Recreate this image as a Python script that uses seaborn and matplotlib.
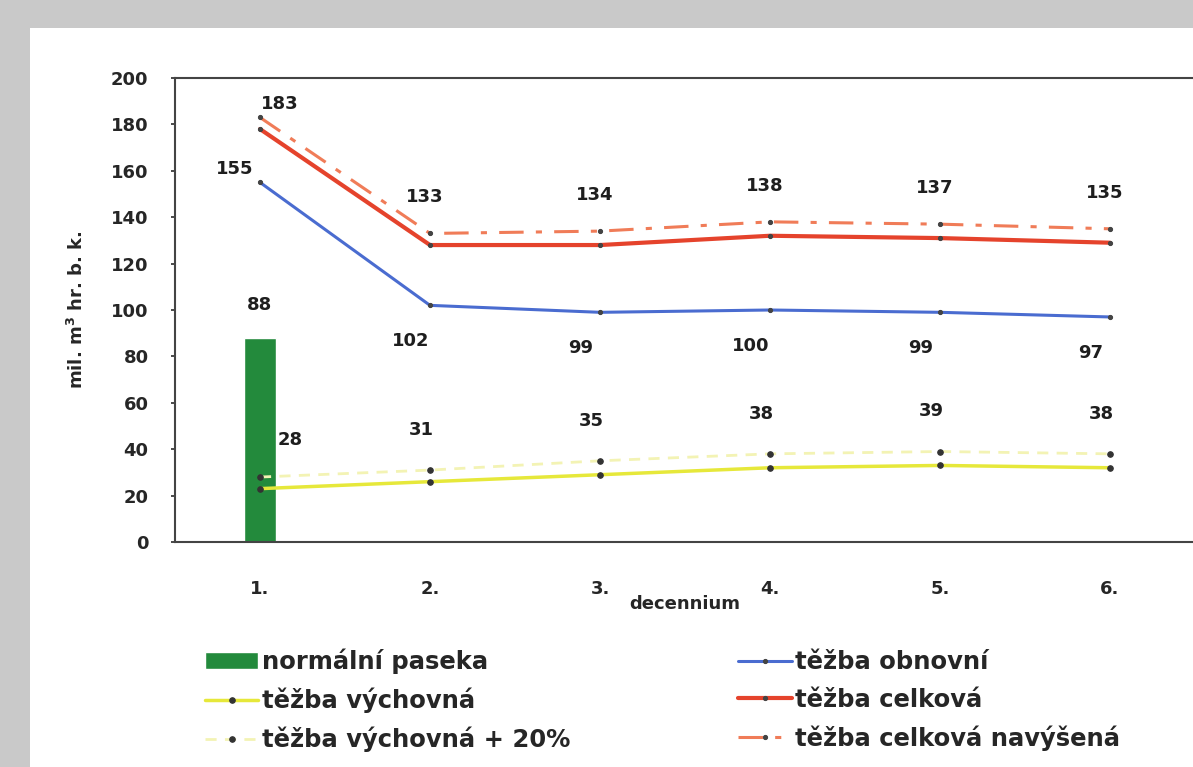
import numpy as np
import pandas as pd
import matplotlib
matplotlib.use("Agg")
import matplotlib.pyplot as plt
import seaborn as sns
from matplotlib.patches import Rectangle

# Données
decennium = ["1.", "2.", "3.", "4.", "5.", "6."]
normalni_paseka = [88, np.nan, np.nan, np.nan, np.nan, np.nan]
tezba_obnovni = [155, 102, 99, 100, 99, 97]
tezba_celkova = [178, 128, 128, 132, 131, 129]
tezba_celkova_navysena = [183, 133, 134, 138, 137, 135]
tezba_vychovna = [23, 26, 29, 32, 33, 32]
tezba_vychovna_20 = [28, 31, 35, 38, 39, 38]

sns.set_theme(style="white")
plt.rcParams['font.family'] = ['DejaVu Sans']
plt.rcParams['font.weight'] = 'bold'

fig = plt.figure(figsize=(11.93, 7.67), dpi=100)
fig.patch.set_facecolor('#c9c9c9')
fig.add_artist(Rectangle((30 / 1193, 0), 1, 1 - 28 / 767, transform=fig.transFigure,
                         facecolor='white', edgecolor='none', zorder=0))

ax = fig.add_axes([175 / 1193, 1 - 542 / 767, 1020 / 1193, 464 / 767])
ax.set_facecolor('white')

x = np.arange(len(decennium))
df = pd.DataFrame({'decennium': decennium, 'paseka': normalni_paseka})

sns.barplot(data=df, x='decennium', y='paseka', color='#238a3c', saturation=1,
            width=0.19, ax=ax, label='normální paseka')

mk = dict(marker='o', markersize=4, markerfacecolor='#333333', markeredgecolor='#333333')
mk2 = dict(marker='o', markersize=3, markerfacecolor='#444444', markeredgecolor='#444444')
sns.lineplot(x=x, y=tezba_vychovna, color='#e6e83a', lw=2.5, ax=ax, label='těžba výchovná', **mk)
sns.lineplot(x=x, y=tezba_vychovna_20, color='#f3f3b4', lw=2, ls=(0, (4, 3)), ax=ax,
             label='těžba výchovná + 20%', **mk)
sns.lineplot(x=x, y=tezba_obnovni, color='#4a6cd0', lw=2.2, ax=ax, label='těžba obnovní', **mk2)
sns.lineplot(x=x, y=tezba_celkova, color='#e5432c', lw=3, ax=ax, label='těžba celková', **mk2)
sns.lineplot(x=x, y=tezba_celkova_navysena, color='#f07c58', lw=2.2, ls=(0, (8, 4, 2, 4)), ax=ax,
             label='těžba celková navýšená', **mk2)

# Étiquettes de valeurs
lab = dict(textcoords='offset points', ha='center', va='center', fontsize=13,
           fontweight='bold', color='#1e1e1e')
ax.annotate(f"{normalni_paseka[0]:.0f}", (0, normalni_paseka[0]), xytext=(0, 24), **lab)
for i in range(len(x)):
    ax.annotate(str(tezba_celkova_navysena[i]), (i, tezba_celkova_navysena[i]),
                xytext=(14, 10) if i == 0 else (-4, 26), **lab)
    ax.annotate(str(tezba_obnovni[i]), (i, tezba_obnovni[i]),
                xytext=(-18, 10) if i == 0 else (-14, -26), **lab)
    ax.annotate(str(tezba_vychovna_20[i]), (i, tezba_vychovna_20[i]),
                xytext=(22, 27) if i == 0 else (-6, 29), **lab)

ax.set_xlim(-0.5, 5.5)
ax.set_ylim(0, 200)
ax.set_yticks(range(0, 201, 20))
ax.set_xticks(x)
ax.set_xticklabels(decennium)
ax.tick_params(axis='both', labelsize=13, length=3, direction='out', color='#333333',
               left=True, bottom=False)
for t in ax.get_xticklabels() + ax.get_yticklabels():
    t.set_fontweight('bold')
ax.tick_params(axis='y', pad=16)
ax.tick_params(axis='x', pad=24)
ax.set_xlabel('decennium', fontsize=13, fontweight='bold', labelpad=-2)
ax.set_ylabel('mil. m$^\\mathbf{3}$ hr. b. k.', fontsize=13, fontweight='bold', labelpad=17)
for s in ['left', 'bottom', 'top']:
    ax.spines[s].set_color('#444444')
    ax.spines[s].set_linewidth(1.5)
ax.spines['right'].set_visible(False)

handles, labels = ax.get_legend_handles_labels()
ax.get_legend().remove()
order = ['normální paseka', 'těžba výchovná', 'těžba výchovná + 20%',
         'těžba obnovní', 'těžba celková', 'těžba celková navýšená']
hmap = dict(zip(labels, handles))
fig.legend([hmap[o] for o in order], order, ncol=2, loc='upper left',
           bbox_to_anchor=(183 / 1193, 1 - 627 / 767), frameon=False,
           prop={'size': 17.5, 'weight': 'bold'}, handlelength=2.2, handletextpad=0.15,
           columnspacing=6.9, labelspacing=0.55, borderpad=0.4)

fig.savefig('out.png', dpi=100)
